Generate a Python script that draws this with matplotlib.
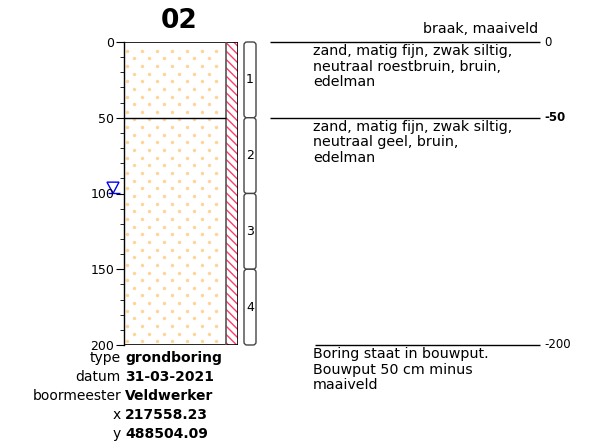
import matplotlib.pyplot as plt
import numpy as np
from matplotlib.patches import Rectangle, FancyBboxPatch, Polygon

plt.rcParams['font.family'] = ['DejaVu Sans']
plt.rcParams['hatch.linewidth'] = 1.0

# boring data
boring_id = '02'
layer_top = [0, 50]
layer_bottom = [50, 200]
layer_desc = ['zand, matig fijn, zwak siltig,\nneutraal roestbruin, bruin,\nedelman',
              'zand, matig fijn, zwak siltig,\nneutraal geel, bruin,\nedelman']
boundary_depth = [0, 50, 200]
boundary_label = ['0', '-50', '-200']
boundary_bold = [False, True, False]
top_note = 'braak, maaiveld'
end_note = 'Boring staat in bouwput.\nBouwput 50 cm minus\nmaaiveld'
sample_top = [0, 50, 100, 150]
sample_bottom = [50, 100, 150, 200]
sample_name = ['1', '2', '3', '4']
water_level = 100
info_keys = ['type', 'datum', 'boormeester', 'x', 'y']
info_vals = ['grondboring', '31-03-2021', 'Veldwerker', '217558.23', '488504.09']

W, H = 590, 447
px_per_cm = 1.515
y0 = 42  # pixel row of depth 0

fig = plt.figure(figsize=(W / 100, H / 100), dpi=100)

# overlay axes: x in pixels, y in depth (cm)
ov = fig.add_axes([0, 0, 1, 1])
ov.set_xlim(0, W)
ov.set_ylim((H - y0) / px_per_cm, -y0 / px_per_cm)
ov.axis('off')

# column axes with depth scale
col_l, col_r, strip_l = 124, 238, 226
ax = fig.add_axes([col_l / W, (H - (y0 + 200 * px_per_cm)) / H,
                   (col_r - col_l) / W, 200 * px_per_cm / H])
ax.set_xlim(col_l, col_r)
ax.set_ylim(200, 0)
for s in ['top', 'right', 'bottom']:
    ax.spines[s].set_visible(False)
ax.spines['left'].set_linewidth(1.0)
ax.set_xticks([])
ax.set_yticks(np.arange(0, 201, 50))
ax.set_yticks(np.arange(0, 201, 10), minor=True)
ax.tick_params(axis='y', which='major', length=6, labelsize=9, pad=1)
ax.tick_params(axis='y', which='minor', length=3)
ax.patch.set_alpha(0)

# sand fill with dots
ax.add_patch(Rectangle((col_l, 0), strip_l - col_l, 200, facecolor='white',
                       edgecolor='none', zorder=0))
rows = np.arange(5.7, 200, 5.05)
for i, d in enumerate(rows):
    xs = np.arange(126.5 + (7.5 if i % 2 else 0), strip_l - 2, 15)
    ax.scatter(xs, np.full(len(xs), d), s=6, color='#ffd596', linewidths=0, zorder=1)

# hatched strip
ax.add_patch(Rectangle((strip_l, 0), col_r - strip_l, 200, facecolor='white',
                       edgecolor='#ff3a6a', hatch='\\\\\\\\', linewidth=0, zorder=1))
ax.add_patch(Rectangle((col_l, 0), col_r - col_l, 200, fill=False,
                       edgecolor='black', linewidth=1.2, zorder=3))
ax.vlines(strip_l, 0, 200, color='#555555', linewidth=1.2, zorder=3)
ax.hlines(layer_bottom[:-1], col_l - 6, strip_l, color='black', linewidth=1.0, zorder=3)

# title
ov.text((col_l + strip_l) / 2 + 4, -14, boring_id, ha='center', va='center',
        fontsize=19, fontweight='bold')

# water level
ov.add_patch(Polygon([(107, water_level - 7.5), (119, water_level - 7.5), (113, water_level)],
                     closed=True, fill=False, edgecolor='blue', linewidth=1.0, zorder=5))
ov.hlines(water_level, 108, 120, color='blue', linewidth=1.0, zorder=5)

# sample boxes
for t, b, n in zip(sample_top, sample_bottom, sample_name):
    ov.add_patch(FancyBboxPatch((244, t), 12, b - t,
                                boxstyle='round,pad=0,rounding_size=3',
                                mutation_aspect=1 / px_per_cm,
                                facecolor='white', edgecolor='#444444', linewidth=1.0))
    ov.text(250, (t + b) / 2, n, ha='center', va='center', fontsize=9)

# right side boundaries and descriptions
for d, lab, bold in zip(boundary_depth, boundary_label, boundary_bold):
    x_start = 315 if d == boundary_depth[-1] else 270
    ov.hlines(d, x_start, 540, color='black', linewidth=1.0)
    ov.text(544, d, lab, ha='left', va='center', fontsize=8.5,
            fontweight='bold' if bold else 'normal')

ov.text(538, -4, top_note, ha='right', va='bottom', fontsize=10.3)
for t, desc in zip(layer_top, layer_desc):
    ov.text(313, t + 1.3, desc, ha='left', va='top', fontsize=10.3, linespacing=1.15)
ov.text(313, boundary_depth[-1] + 1.3, end_note, ha='left', va='top', fontsize=10.3,
        linespacing=1.15)

# info block
for i, (k, v) in enumerate(zip(info_keys, info_vals)):
    yy = 208.6 + i * 12.54
    ov.text(121, yy, k, ha='right', va='center', fontsize=10)
    ov.text(125, yy, v, ha='left', va='center', fontsize=10, fontweight='bold')

fig.savefig('out.png', dpi=100)
